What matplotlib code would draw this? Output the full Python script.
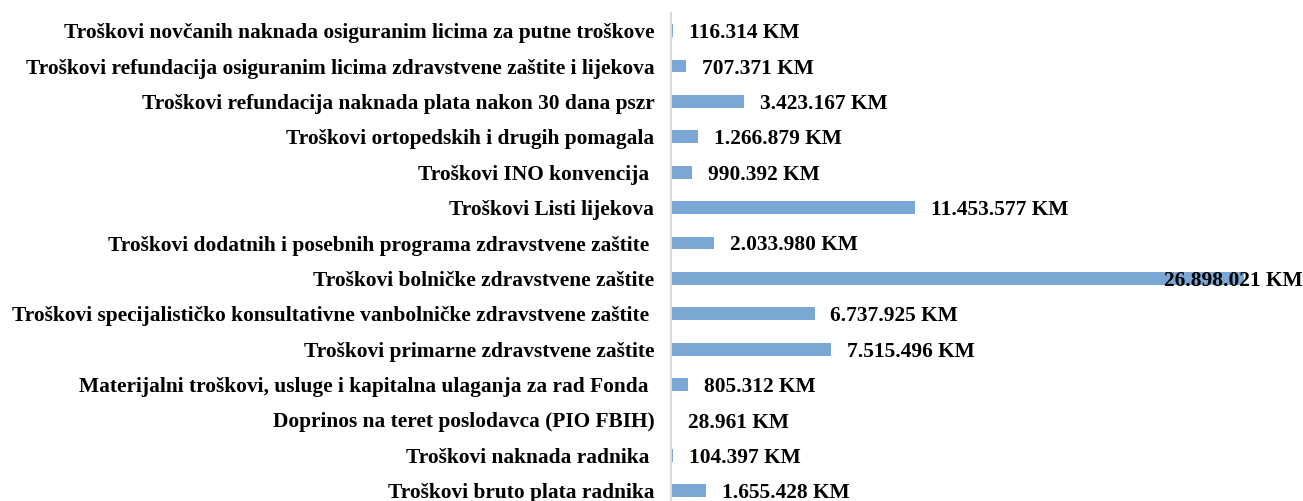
import matplotlib.pyplot as plt

plt.rcParams["font.family"] = ["Liberation Serif", "DejaVu Serif"]

# top to bottom as in the picture
categories = [
    "Troškovi novčanih naknada osiguranim licima za putne troškove",
    "Troškovi refundacija osiguranim licima zdravstvene zaštite i lijekova",
    "Troškovi refundacija naknada plata nakon 30 dana pszr",
    "Troškovi ortopedskih i drugih pomagala",
    "Troškovi INO konvencija ",
    "Troškovi Listi lijekova",
    "Troškovi dodatnih i posebnih programa zdravstvene zaštite ",
    "Troškovi bolničke zdravstvene zaštite",
    "Troškovi specijalističko konsultativne vanbolničke zdravstvene zaštite ",
    "Troškovi primarne zdravstvene zaštite",
    "Materijalni troškovi, usluge i kapitalna ulaganja za rad Fonda ",
    "Doprinos na teret poslodavca (PIO FBIH)",
    "Troškovi naknada radnika ",
    "Troškovi bruto plata radnika",
]
values = [
    116314, 707371, 3423167, 1266879, 990392, 11453577, 2033980,
    26898021, 6737925, 7515496, 805312, 28961, 104397, 1655428,
]
value_labels = [
    "116.314 KM", "707.371 KM", "3.423.167 KM", "1.266.879 KM", "990.392 KM",
    "11.453.577 KM", "2.033.980 KM", "26.898.021 KM", "6.737.925 KM",
    "7.515.496 KM", "805.312 KM", "28.961 KM", "104.397 KM", "1.655.428 KM",
]

W, H = 1303, 501
fig = plt.figure(figsize=(W / 100, H / 100), dpi=100)
ax_left, ax_right = 671, 1303
row = 35.4
ax = fig.add_axes([ax_left / W, -7.5 / H, (ax_right - ax_left) / W, 14 * row / H])

bar_color = "#7BA7D4"
fs = 15.4
pos = list(range(len(categories)))[::-1]
ax.barh(pos, values, height=0.36, color=bar_color, zorder=2)

xmax = (ax_right - ax_left) / 21.3 * 1e6
ax.set_xlim(0, xmax)
ax.set_ylim(-0.5, len(categories) - 0.5)

ax.set_yticks(pos)
ax.set_yticklabels(categories, fontsize=fs, fontweight="bold")
ax.tick_params(axis="y", length=0, pad=12)
ax.set_xticks([])

for s in ["top", "right", "bottom"]:
    ax.spines[s].set_visible(False)
ax.spines["left"].set_color("#D9D9D9")
ax.spines["left"].set_linewidth(1.5)

offset = 0.75e6
for p, v, lab in zip(pos, values, value_labels):
    if v + offset + 6.5e6 > xmax:
        # does not fit after the bar, pull it in against the right edge
        ax.text(xmax, p, lab, ha="right", va="center_baseline", fontsize=fs,
                fontweight="bold", zorder=3)
    else:
        ax.text(v + offset, p, lab, ha="left", va="center_baseline", fontsize=fs,
                fontweight="bold", zorder=3)

fig.savefig("out.png", dpi=100)
